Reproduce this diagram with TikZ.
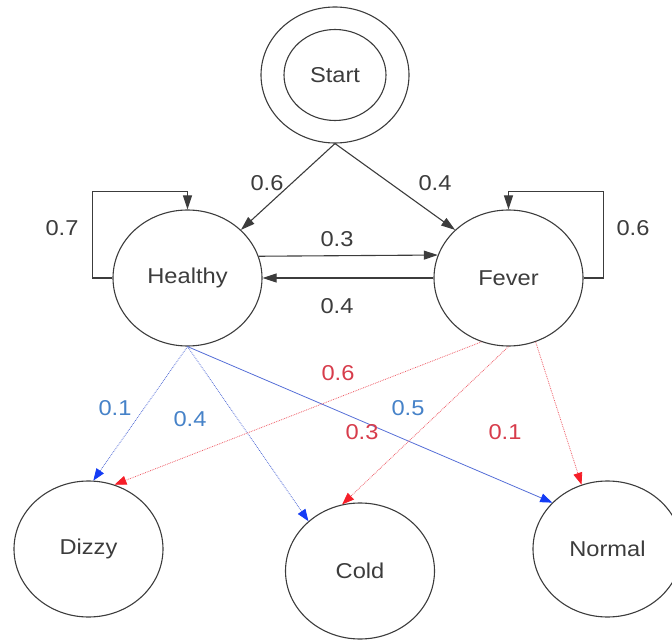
\documentclass[tikz,border=0pt]{standalone}
\usepackage{fontspec}
\setmainfont[FakeStretch=1.1]{Liberation Sans}
\usetikzlibrary{arrows.meta,shapes.geometric}
\definecolor{ink}{RGB}{60,60,60}
\definecolor{blueline}{RGB}{85,110,215}
\definecolor{bluetip}{RGB}{20,60,245}
\definecolor{bluetext}{RGB}{70,130,200}
\definecolor{redline}{RGB}{238,95,105}
\definecolor{redtip}{RGB}{245,30,40}
\definecolor{redtext}{RGB}{215,60,75}
\tikzset{
  state/.style={ellipse, draw=ink, line width=1.1pt, minimum width=149pt, minimum height=136pt, inner sep=0pt, text=ink},
  trans/.style={draw=ink, line width=1.1pt, -{Triangle[length=14pt,width=9pt]}},
  emitH/.style={draw=blueline, line width=0.8pt, -{Triangle[length=12pt,width=9pt,color=bluetip]}},
  emitF/.style={draw=redline, line width=0.8pt, densely dotted, -{Triangle[length=12pt,width=9pt,color=redtip]}},
  prob/.style={text=ink},
}

\begin{document}
\begin{tikzpicture}[x=1pt,y=1pt,font=\fontsize{21.5}{24}\selectfont]
\useasboundingbox (0,0) rectangle (672,641);
% hidden states and start state
\node[state, minimum width=148pt, minimum height=136pt] (startring) at (335,566) {};
\node[state, minimum width=102pt, minimum height=91pt] (start) at (startring) {Start};
\node[state] (healthy) at (187.5,363) {Healthy};
\node[state] (fever) at (508.5,363) {Fever};
% observations
\node[state] (dizzy) at (88.5,92) {Dizzy};
\node[state] (cold) at (360,70) {Cold};
\node[state] (normal) at (607.5,92) {Normal};

% transitions
\draw[trans] (startring.south) -- (healthy.42);
\draw[trans] (startring.south) -- (fever.138);
\draw[trans] (healthy.17.3) -- (fever.162.7);
\draw[trans] (fever.west) -- (healthy.east);
\draw[trans] (healthy.west) -- ++(-20,0) |- ([yshift=18pt]healthy.north) -- (healthy.north);
\draw[trans] (fever.east) -- ++(20,0) |- ([yshift=18pt]fever.north) -- (fever.north);

% emissions
\draw[emitH, densely dotted] (healthy.south) -- (dizzy.86);
\draw[emitH, densely dotted] (healthy.south) -- (cold.136);
\draw[emitH] (healthy.south) -- (normal.140);
\draw[emitF] (fever.247) -- (dizzy.68);
\draw[emitF] (fever.south) -- (cold.105);
\draw[emitF] (fever.293) -- (normal.112);

% probabilities
\node[prob] (pSH) at (267,458) {0.6};
\node[prob] (pSF) at (435,458) {0.4};
\node[prob] (pHH) at (62,413) {0.7};
\node[prob] (pFF) at (633,413) {0.6};
\node[prob] (pHF) at (337,402) {0.3};
\node[prob] (pFH) at (337,335) {0.4};
\node[text=bluetext] (pHD) at (115,233) {0.1};
\node[text=bluetext] (pHC) at (190,222) {0.4};
\node[text=bluetext] (pHN) at (408,233) {0.5};
\node[text=redtext] (pFD) at (338,268) {0.6};
\node[text=redtext] (pFC) at (362,209) {0.3};
\node[text=redtext] (pFN) at (505,209) {0.1};
\end{tikzpicture}
\end{document}
